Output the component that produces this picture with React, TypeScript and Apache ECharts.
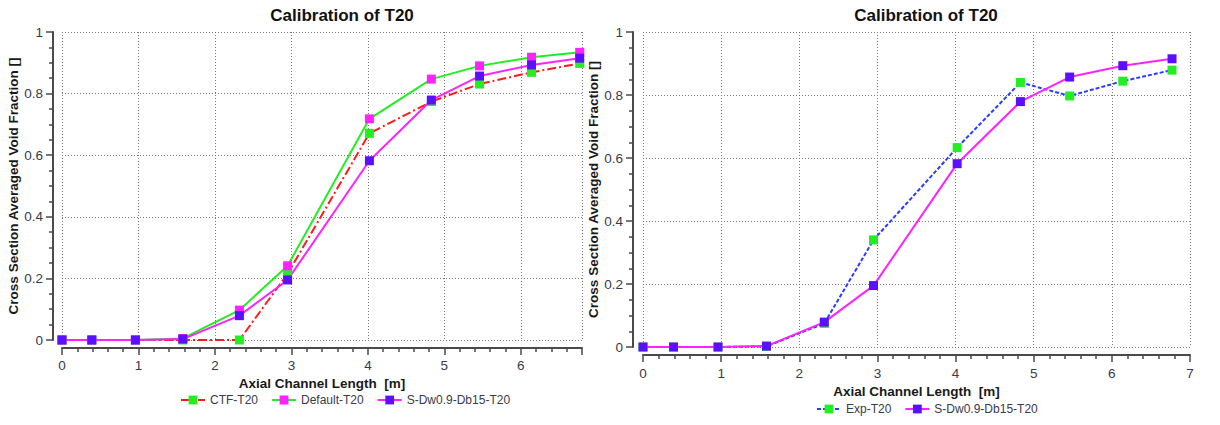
import React, { useEffect, useRef } from "react";
import * as echarts from "echarts";

const titleText = "Calibration of T20";
const xName = "Axial Channel Length  [m]";
const yName = "Cross Section Averaged Void Fraction []";

const xPos = [0, 0.39, 0.96, 1.58, 2.32, 2.95, 4.02, 4.83, 5.46, 6.14, 6.77];
const ctfT20 = [0, 0, 0, 0, 0, 0.215, 0.671, 0.774, 0.831, 0.869, 0.898];
const defaultT20 = [0, 0, 0, 0.005, 0.097, 0.241, 0.718, 0.847, 0.89, 0.918, 0.934];
const sdwT20 = [0, 0, 0, 0.003, 0.079, 0.195, 0.582, 0.779, 0.857, 0.893, 0.915];
const expT20 = [0, 0, 0, 0.002, 0.075, 0.34, 0.633, 0.84, 0.797, 0.844, 0.879];

const leftNames = ["CTF-T20", "Default-T20", "S-Dw0.9-Db15-T20"];
const rightNames = ["Exp-T20", "S-Dw0.9-Db15-T20"];

const FONT = "Liberation Sans";

const pairs = (ys: number[]) => xPos.map((x, i) => [x, ys[i]]);

const gridLine = { show: true, lineStyle: { color: "#7a7a7a", width: 1, type: [1, 2] as any } };
const axisLineStyle = { show: true, onZero: false, lineStyle: { color: "#4a4a4a", width: 2 } };

function makeX(gridIndex: number, max: number, offset: number, nameGap: number, margin: number, showMax: boolean) {
  return {
    type: "value",
    gridIndex,
    min: 0,
    max,
    interval: 1,
    offset,
    name: xName,
    nameLocation: "middle",
    nameGap,
    nameTextStyle: { fontFamily: FONT, fontWeight: "bold", fontSize: 13.5, color: "#1a1a1a" },
    axisLine: axisLineStyle,
    axisTick: { show: true, length: 7, lineStyle: { color: "#4a4a4a", width: 1.5 } },
    minorTick: { show: true, splitNumber: 5, length: 4, lineStyle: { color: "#4a4a4a", width: 1.5 } },
    axisLabel: { fontFamily: FONT, fontSize: 13.5, color: "#3a3a4a", margin, showMaxLabel: showMax },
    splitLine: gridLine,
  };
}

function makeY(gridIndex: number, offset: number) {
  return {
    type: "value",
    gridIndex,
    min: 0,
    max: 1,
    interval: 0.2,
    offset,
    name: yName,
    nameLocation: "middle",
    nameGap: 31,
    nameTextStyle: { fontFamily: FONT, fontWeight: "bold", fontSize: 13.5, color: "#1a1a1a" },
    axisLine: axisLineStyle,
    axisTick: { show: true, length: 7, lineStyle: { color: "#4a4a4a", width: 1.5 } },
    minorTick: { show: true, splitNumber: 4, length: 4, lineStyle: { color: "#4a4a4a", width: 1.5 } },
    axisLabel: { fontFamily: FONT, fontSize: 13.5, color: "#3a3a4a", margin: 10 },
    splitLine: gridLine,
  };
}

function lineSeries(name: string, ys: number[], idx: number, lineColor: string, markColor: string, type: any) {
  return {
    type: "line",
    name,
    xAxisIndex: idx,
    yAxisIndex: idx,
    data: pairs(ys),
    symbol: "rect",
    symbolSize: 9,
    showSymbol: true,
    lineStyle: { color: lineColor, width: 2, type },
    itemStyle: { color: markColor },
    emphasis: { disabled: true },
  };
}

function legend(names: string[], left: number, top: number) {
  return {
    data: names,
    left,
    top,
    orient: "horizontal",
    itemWidth: 24,
    itemHeight: 11,
    itemGap: 13,
    textStyle: { fontFamily: FONT, fontSize: 12, color: "#3a3a4a" },
  };
}

export default function App() {
  const ref = useRef<HTMLDivElement>(null);
  useEffect(() => {
    document.body.style.margin = "0";
    const chart = echarts.init(ref.current!, undefined, { renderer: "svg" });
    const RED = "#ff1a1a";
    const GREEN = "#22ee22";
    const MAGENTA = "#ff22ff";
    const PURPLE = "#5a10ff";
    const BLUE = "#2a3cff";
    chart.setOption({
      animation: false,
      backgroundColor: "#ffffff",
      title: [
        { text: titleText, left: 337, top: 2, textAlign: "center", textStyle: { fontFamily: FONT, fontWeight: "bold", fontSize: 17, color: "#111" } },
        { text: titleText, left: 921, top: 2, textAlign: "center", textStyle: { fontFamily: FONT, fontWeight: "bold", fontSize: 17, color: "#111" } },
      ],
      legend: [legend(leftNames, 175, 389), legend(rightNames, 811, 398)],
      grid: [
        { left: 62, top: 32, width: 520, height: 308 },
        { left: 643, top: 32, width: 547, height: 315 },
      ],
      xAxis: [makeX(0, 6.8, 8, 24, 10, false), makeX(1, 7, 8, 26, 11, true)],
      yAxis: [makeY(0, 9), makeY(1, 10)],
      series: [
        lineSeries("CTF-T20", ctfT20, 0, RED, GREEN, [9, 3, 2, 3]),
        lineSeries("Default-T20", defaultT20, 0, GREEN, MAGENTA, "solid"),
        lineSeries("S-Dw0.9-Db15-T20", sdwT20, 0, MAGENTA, PURPLE, "solid"),
        lineSeries("Exp-T20", expT20, 1, BLUE, GREEN, [4, 2]),
        lineSeries("S-Dw0.9-Db15-T20", sdwT20, 1, MAGENTA, PURPLE, "solid"),
      ],
    });
    return () => chart.dispose();
  }, []);
  return <div ref={ref} style={{ position: "absolute", left: 0, top: 0, width: 1220, height: 425 }} />;
}
